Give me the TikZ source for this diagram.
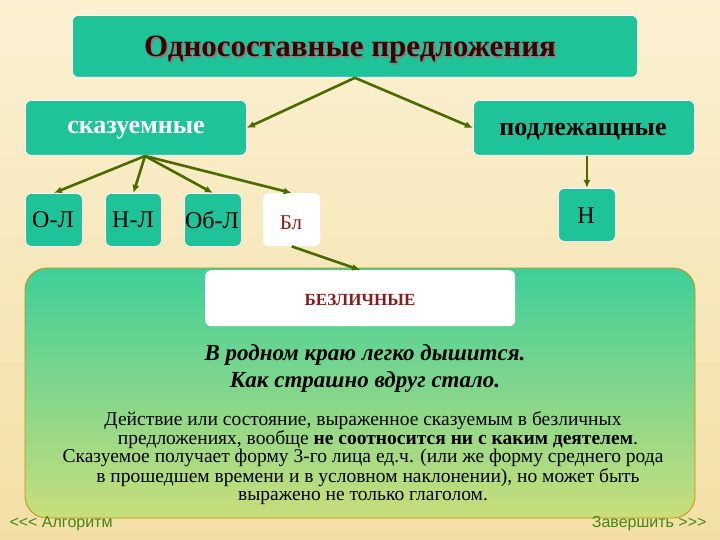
\documentclass[tikz,border=0pt]{standalone}
\usepackage{fontspec}
\setmainfont{Liberation Serif}
\newfontfamily\navfont{Liberation Sans}
\usetikzlibrary{arrows.meta,shadows}
\definecolor{teal1}{HTML}{1FC39A}
\definecolor{bgtop}{HTML}{FBF1D2}
\definecolor{bgbot}{HTML}{F3DFA6}
\definecolor{arr}{HTML}{4A6A00}
\definecolor{darkred}{HTML}{8B1A1A}
\definecolor{panelt}{HTML}{3ECF9A}
\definecolor{panelb}{HTML}{C9DE7C}
\definecolor{navg}{HTML}{3E8A10}
\begin{document}
\begin{tikzpicture}[x=1pt,y=-1pt,
  box/.style={draw=white,line width=0.8pt,fill=teal1,rounded corners=6pt,inner sep=0pt,anchor=north west},
  wbox/.style={fill=white,rounded corners=6pt,inner sep=0pt,anchor=north west},
  con/.style={-{Latex[length=8pt,width=7pt]},draw=arr,line width=2.6pt},
  body/.style={font=\fontsize{19.5}{18}\selectfont,align=center}]
\useasboundingbox (0,0) rectangle (720,540);
\shade[top color=bgtop,bottom color=bgbot] (0,0) rectangle (720,540);
\node[box,minimum width=565pt,minimum height=62pt] (title) at (72,15) {};
\node[text=black!50] at (351.5,51.5) {\fontsize{31}{34}\selectfont\bfseries Односоставные предложения};
\node[text=black!75!red] at (350,50) {\fontsize{31}{34}\selectfont\bfseries Односоставные предложения};
\node[box,minimum width=221pt,minimum height=55pt] (sk) at (25,100) {};
\node[text=white] at (136,130) {\fontsize{26}{28}\selectfont\bfseries сказуемные};
\node[box,minimum width=221pt,minimum height=55pt] (pod) at (473,100) {};
\node at (583,132) {\fontsize{26}{28}\selectfont\bfseries подлежащные};
\node[box,minimum width=57pt,minimum height=53pt] (ol) at (25,193) {};
\node at (53,220) {\fontsize{24}{26}\selectfont О-Л};
\node[box,minimum width=56pt,minimum height=53pt] (nl) at (105,193) {};
\node at (133,220) {\fontsize{24}{26}\selectfont Н-Л};
\node[box,minimum width=57pt,minimum height=53pt] (obl) at (184,193) {};
\node at (212,220) {\fontsize{24}{26}\selectfont Об-Л};
\node[wbox,minimum width=57pt,minimum height=53pt] (bl) at (263,193) {};
\node[text=darkred] at (291,223) {\fontsize{21}{24}\selectfont Бл};
\node[box,minimum width=57pt,minimum height=53pt] (n) at (558,188) {};
\node at (586,216) {\fontsize{24}{26}\selectfont Н};
\shade[top color=panelt,bottom color=panelb,draw=orange!60!yellow!80!black,rounded corners=22pt,line width=0.8pt] (25,268) rectangle (695,518);
\node[wbox,minimum width=310pt,minimum height=56pt] (bez) at (205,270) {};
\node[text=darkred] at (360,300) {\fontsize{17}{20}\selectfont\bfseries БЕЗЛИЧНЫЕ};
\node[font=\fontsize{23}{27}\selectfont\bfseries\itshape,align=center] (ex) at (365,369) {В родном краю легко дышится.\\Как страшно вдруг стало.};
\node[body,inner sep=0pt] (t1) at (363,458) {Действие или состояние, выраженное сказуемым в безличных\\\hspace*{30pt}предложениях, вообще \textbf{не соотносится ни с каким деятелем}.\\Сказуемое получает форму 3-го лица ед.ч. (или же форму среднего рода\\\hspace*{10pt}в прошедшем времени и в условном наклонении), но может быть\\выражено не только глаголом.};
\node[anchor=west,text=navg,font=\navfont\fontsize{16}{18}\selectfont] (alg) at (6,524) {<<< Алгоритм};
\node[anchor=east,text=navg,font=\navfont\fontsize{16}{18}\selectfont] (fin) at (710,524) {Завершить >>>};
\draw[con] (title.south) -- (sk.east);
\draw[con] (title.south) -- (pod.west);
\draw[con] (145,156) -- (ol.north);
\draw[con] (145,156) -- (nl.north);
\draw[con] (145,156) -- (obl.north);
\draw[con] (145,156) -- (bl.north);
\draw[con] (pod.south -| n.north) -- (n.north);
\draw[con] (bl.south) -- (bez.north);
\end{tikzpicture}
\end{document}
